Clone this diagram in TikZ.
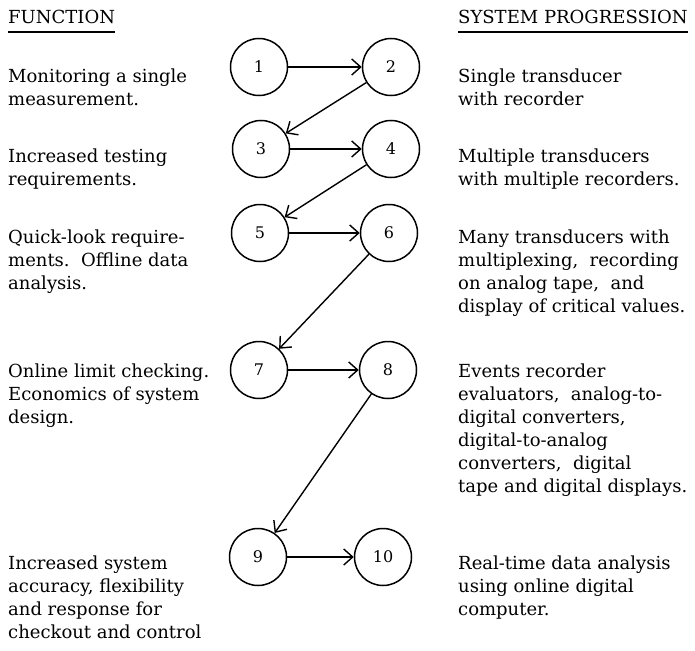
\documentclass[tikz,border=0pt]{standalone}
\usepackage{fontspec}
\setmainfont{DejaVu Serif}
\usetikzlibrary{arrows.meta}
\newcommand{\firstline}{\rule{0pt}{14pt}}
\begin{document}
\begin{tikzpicture}[x=1pt,y=-1pt,
  stage/.style={circle,draw,line width=1.5pt,minimum size=57pt,inner sep=0pt,font=\fontsize{16}{18}\selectfont},
  txt/.style={anchor=north west,align=left,inner sep=0pt,font=\fontsize{18}{23}\selectfont},
  hdr/.style={anchor=base west,inner sep=0pt,font=\fontsize{18}{20}\selectfont},
  uline/.style={line width=1.8pt},
  flow/.style={line width=1.4pt,-{Straight Barb[length=9pt,width=16pt,line width=1.4pt]}}]
\useasboundingbox (0,0) rectangle (695,650);
% headers
\node[hdr] (fh) at (8,24) {FUNCTION};
\node[hdr] (sh) at (458,24) {SYSTEM PROGRESSION};
\draw[uline] ([yshift=-8pt]fh.base west) -- ([yshift=-8pt]fh.base east);
\draw[uline] ([yshift=-8pt]sh.base west) -- ([yshift=-8pt]sh.base east);
% stages
\node[stage] (n1) at (259,67) {1};
\node[stage] (n2) at (391,67) {2};
\node[stage] (n3) at (261,149) {3};
\node[stage] (n4) at (391,149) {4};
\node[stage] (n5) at (260,233) {5};
\node[stage] (n6) at (389,233) {6};
\node[stage] (n7) at (259,370) {7};
\node[stage] (n8) at (388,370) {8};
\node[stage] (n9) at (258,557) {9};
\node[stage] (n10) at (383,557) {10};
% connectors
\draw[flow] (n1) -- (n2);
\draw[flow] (n2) -- (n3);
\draw[flow] (n3) -- (n4);
\draw[flow] (n4) -- (n5);
\draw[flow] (n5) -- (n6);
\draw[flow] (n6) -- (n7);
\draw[flow] (n7) -- (n8);
\draw[flow] (n8) -- (n9);
\draw[flow] (n9) -- (n10);
% function texts (first baseline = y + 14)
\node[txt] (f1) at (8,68) {\firstline Monitoring a single\\measurement.};
\node[txt] (f2) at (8,148) {\firstline Increased testing\\requirements.};
\node[txt] (f3) at (8,229) {\firstline Quick-look require-\\ments.\ \ Offline data\\analysis.};
\node[txt] (f4) at (8,363) {\firstline Online limit checking.\\Economics of system\\design.};
\node[txt] (f5) at (8,555) {\firstline Increased system\\accuracy, flexibility\\and response for\\checkout and control};
% system progression texts
\node[txt] (s1) at (458,68) {\firstline Single transducer\\with recorder};
\node[txt] (s2) at (458,148) {\firstline Multiple transducers\\with multiple recorders.};
\node[txt] (s3) at (458,229) {\firstline Many transducers with\\multiplexing,\ \ recording\\on analog tape,\ \ and\\display of critical values.};
\node[txt] (s4) at (458,363) {\firstline Events recorder\\evaluators,\ \ analog-to-\\digital converters,\\digital-to-analog\\converters,\ \ digital\\tape and digital displays.};
\node[txt] (s5) at (458,555) {\firstline Real-time data analysis\\using online digital\\computer.};
\end{tikzpicture}
\end{document}
